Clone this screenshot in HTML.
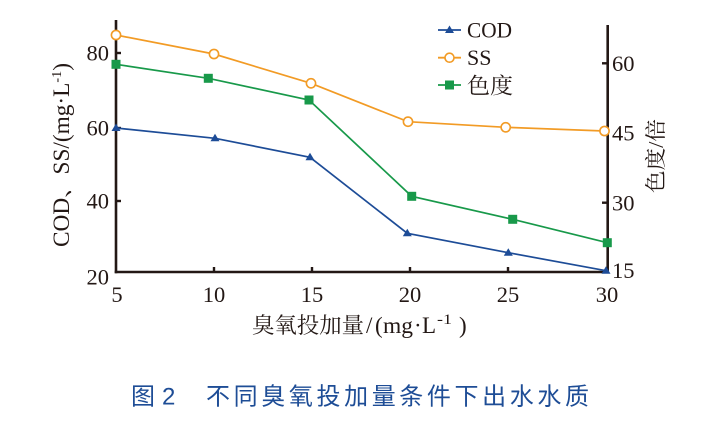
<!DOCTYPE html>
<html>
<head>
<meta charset="utf-8">
<style>
html,body{margin:0;padding:0;background:#fff;}
body{width:712px;height:446px;overflow:hidden;position:relative;}
svg{position:absolute;left:0;top:0;}
.serif{font-family:"Liberation Serif","Noto Serif CJK SC",serif;}
.cap{font-family:"Liberation Sans","Noto Sans CJK SC",sans-serif;}
</style>
</head>
<body>
<svg width="712" height="446" viewBox="0 0 712 446" xmlns="http://www.w3.org/2000/svg">
  <!-- axes -->
  <g stroke="#231815" stroke-width="2.6" fill="none">
    <line x1="116" y1="20" x2="116" y2="273.3"/>
    <line x1="114.7" y1="272" x2="609" y2="272"/>
    <line x1="607.7" y1="25" x2="607.7" y2="273.3"/>
  </g>
  <g stroke="#231815" stroke-width="2.4">
    <line x1="116" y1="53" x2="121" y2="53"/>
    <line x1="116" y1="128" x2="121" y2="128"/>
    <line x1="116" y1="201" x2="121" y2="201"/>
    <line x1="602" y1="63.3" x2="607.7" y2="63.3"/>
    <line x1="602" y1="132.7" x2="607.7" y2="132.7"/>
    <line x1="602" y1="202.7" x2="607.7" y2="202.7"/>
    <line x1="214" y1="267" x2="214" y2="272"/>
    <line x1="312" y1="267" x2="312" y2="272"/>
    <line x1="410" y1="267" x2="410" y2="272"/>
    <line x1="508" y1="267" x2="508" y2="272"/>
  </g>

  <!-- left tick labels -->
  <g class="serif" font-size="22.5" fill="#231815" text-anchor="end">
    <text x="109" y="60.5">80</text>
    <text x="109" y="135.5">60</text>
    <text x="109" y="208.5">40</text>
    <text x="109" y="284.5">20</text>
  </g>
  <!-- right tick labels -->
  <g class="serif" font-size="22.5" fill="#231815" text-anchor="start">
    <text x="612" y="71">60</text>
    <text x="612" y="140.5">45</text>
    <text x="612" y="210.5">30</text>
    <text x="612" y="278">15</text>
  </g>
  <!-- bottom tick labels -->
  <g class="serif" font-size="22.5" fill="#231815" text-anchor="middle">
    <text x="117" y="302">5</text>
    <text x="214" y="302">10</text>
    <text x="312" y="302">15</text>
    <text x="410" y="302">20</text>
    <text x="508" y="302">25</text>
    <text x="607" y="302">30</text>
  </g>

  <!-- y-axis title -->
  <text class="serif" font-size="23" fill="#231815" text-anchor="middle" transform="translate(69,155) rotate(-90)" textLength="184" lengthAdjust="spacingAndGlyphs">COD、SS/(mg·L<tspan font-size="14" dy="-8">-1</tspan><tspan dy="8">)</tspan></text>

  <!-- x-axis title -->
  <g class="serif" fill="#231815">
    <text x="252" y="333" font-size="22" textLength="112" lengthAdjust="spacingAndGlyphs">臭氧投加量</text>
    <text x="366" y="333" font-size="23">/</text>
    <text x="375" y="333" font-size="23">(</text>
    <text x="383" y="333" font-size="23" textLength="30" lengthAdjust="spacingAndGlyphs">mg</text>
    <text x="414" y="333" font-size="23">·</text>
    <text x="422" y="333" font-size="23">L</text>
    <text x="437" y="324" font-size="15" textLength="15" lengthAdjust="spacingAndGlyphs">-1</text>
    <text x="459" y="333" font-size="23">)</text>
  </g>

  <!-- right axis title -->
  <text class="serif" font-size="21" fill="#231815" text-anchor="middle" transform="translate(663,156) rotate(-90)" textLength="74" lengthAdjust="spacingAndGlyphs">色度/倍</text>

  <!-- SS series -->
  <polyline fill="none" stroke="#F29B25" stroke-width="1.7" points="116,35 214,54 311,83.3 408,121.7 505.7,127.3 604.5,131"/>
  <g fill="#fff" stroke="#F29B25" stroke-width="1.6">
    <circle cx="116" cy="35" r="4.6"/>
    <circle cx="214" cy="54" r="4.6"/>
    <circle cx="311" cy="83.3" r="4.6"/>
    <circle cx="408" cy="121.7" r="4.6"/>
    <circle cx="505.7" cy="127.3" r="4.6"/>
    <circle cx="604.5" cy="131" r="4.6"/>
  </g>

  <!-- 色度 series -->
  <polyline fill="none" stroke="#18994A" stroke-width="1.7" points="116,64.3 208.3,78.3 309,100 411.7,196.3 512.7,219.3 607.3,242.7"/>
  <g fill="#18994A">
    <rect x="111.5" y="59.8" width="9" height="9"/>
    <rect x="203.8" y="73.8" width="9" height="9"/>
    <rect x="304.5" y="95.5" width="9" height="9"/>
    <rect x="407.2" y="191.8" width="9" height="9"/>
    <rect x="508.2" y="214.8" width="9" height="9"/>
    <rect x="602.8" y="238.2" width="9" height="9"/>
  </g>

  <!-- COD series -->
  <polyline fill="none" stroke="#1D4C97" stroke-width="1.7" points="116,128 215,138.3 310,157.3 407.3,233.3 508.3,252.7 606,270.7"/>
  <g fill="#1D4C97">
    <polygon points="116,123.5 120.5,131 111.5,131"/>
    <polygon points="215,133.8 219.5,141.3 210.5,141.3"/>
    <polygon points="310,152.8 314.5,160.3 305.5,160.3"/>
    <polygon points="407.3,228.8 411.8,236.3 402.8,236.3"/>
    <polygon points="508.3,248.2 512.8,255.7 503.8,255.7"/>
    <polygon points="606,266.2 610.5,273.7 601.5,273.7"/>
  </g>

  <!-- legend -->
  <line x1="438" y1="30" x2="461" y2="30" stroke="#1D4C97" stroke-width="1.8"/>
  <polygon points="449.5,25.5 454,33 445,33" fill="#1D4C97"/>
  <line x1="438" y1="57.7" x2="461" y2="57.7" stroke="#F29B25" stroke-width="1.8"/>
  <circle cx="449.5" cy="57.7" r="4.5" fill="#fff" stroke="#F29B25" stroke-width="1.6"/>
  <line x1="438" y1="85" x2="461" y2="85" stroke="#18994A" stroke-width="1.8"/>
  <rect x="445" y="80.5" width="9" height="9" fill="#18994A"/>
  <g class="serif" font-size="22" fill="#231815">
    <text x="467" y="37.5" textLength="45" lengthAdjust="spacingAndGlyphs">COD</text>
    <text x="467" y="65.2">SS</text>
    <text x="467" y="93.5" textLength="46" lengthAdjust="spacingAndGlyphs">色度</text>
  </g>

  <!-- caption -->
  <g class="cap" font-size="24" fill="#1E4D96">
    <text x="131" y="404.5">图</text>
    <text x="162" y="404.5">2</text>
    <text x="206" y="404.5" textLength="383" lengthAdjust="spacing">不同臭氧投加量条件下出水水质</text>
  </g>
</svg>
</body>
</html>
